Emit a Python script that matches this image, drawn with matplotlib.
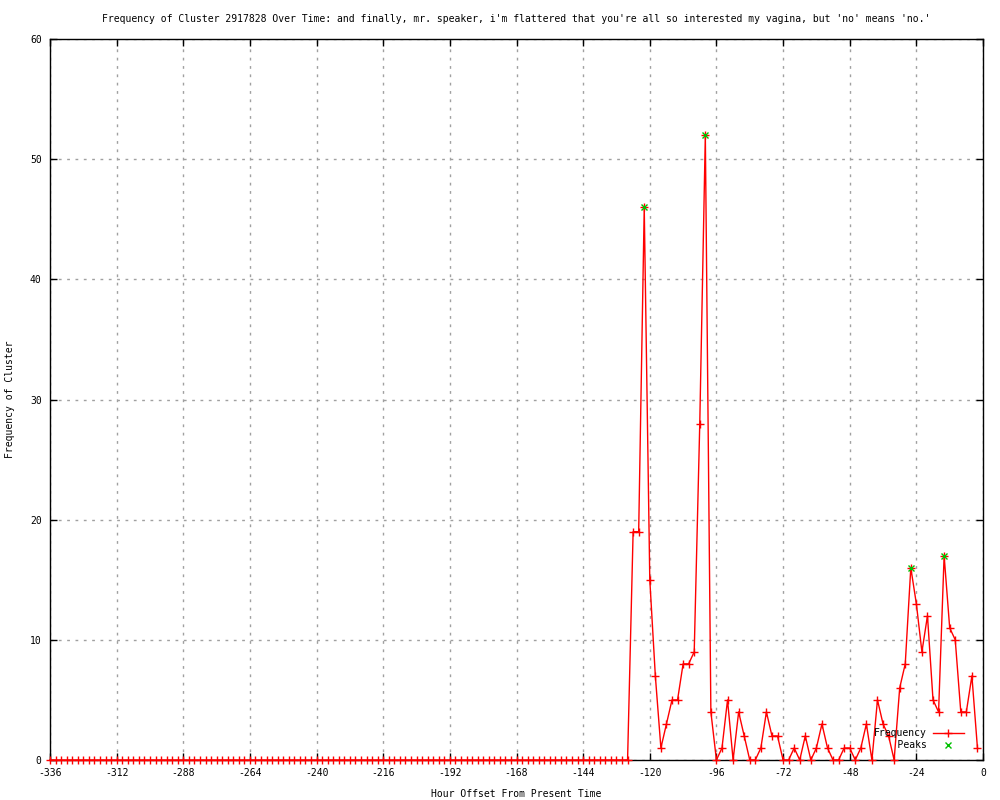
import matplotlib
matplotlib.use('Agg')
import matplotlib.pyplot as plt
import numpy as np

plt.rcParams['font.family'] = ['DejaVu Sans Mono']
plt.rcParams['axes.unicode_minus'] = False

TITLE = ("Frequency of Cluster 2917828 Over Time: and finally, mr. speaker, "
         "i'm flattered that you're all so interested my vagina, but 'no' means 'no.'")

# hour offsets, one sample every 2 hours
horas = np.arange(-336, 0, 2)

# -336 .. -128 are all zero
frequencia = [0] * 105 + [
    19, 19, 46, 15, 7, 1, 3, 5, 5, 8, 8, 9, 28, 52, 4, 0,
    1, 5, 0, 4, 2, 0, 0, 1, 4, 2, 2, 0, 0, 1, 0, 2,
    0, 1, 3, 1, 0, 0, 1, 1, 0, 1, 3, 0, 5, 3, 2, 0,
    6, 8, 16, 13, 9, 12, 5, 4, 17, 11, 10, 4, 4, 7, 1,
]

picos_x = [-122, -100, -26, -14]
picos_y = [46, 52, 16, 17]

xticks = list(range(-336, 1, 24))
yticks = list(range(0, 61, 10))

fig = plt.figure(figsize=(10, 8), dpi=100, facecolor='white')
ax = fig.add_axes([0.05, 0.05, 0.933, 0.90125])

ax.plot(horas, frequencia, color='#ff0000', lw=1, marker='+', ms=6,
        mew=1, label='Frequency', clip_on=False, zorder=3)
ax.plot(picos_x, picos_y, ls='none', marker='x', color='#00c000', ms=5,
        mew=1, label='    Peaks', clip_on=False, zorder=4)

ax.set_xlim(-336, 0)
ax.set_ylim(0, 60)
ax.set_xticks(xticks)
ax.set_yticks(yticks)
ax.tick_params(direction='in', top=True, right=True, length=5, width=1,
               labelsize=7, pad=6)
ax.grid(True, color='#a0a0a0', ls=(0, (2, 4)), lw=1)
for s in ax.spines.values():
    s.set_linewidth(1)

ax.set_title(TITLE, fontsize=7, pad=12)
ax.set_xlabel('Hour Offset From Present Time', fontsize=7, labelpad=8)
ax.set_ylabel('Frequency of Cluster', fontsize=7)
ax.yaxis.set_label_coords(-0.037, 0.5)

ax.legend(loc='lower right', frameon=False, markerfirst=False, fontsize=7,
          handlelength=3.2, handletextpad=0.6, labelspacing=0.2,
          borderaxespad=0.6, bbox_to_anchor=(0.99, 0.0))

fig.savefig('out.png', dpi=100, facecolor='white')
